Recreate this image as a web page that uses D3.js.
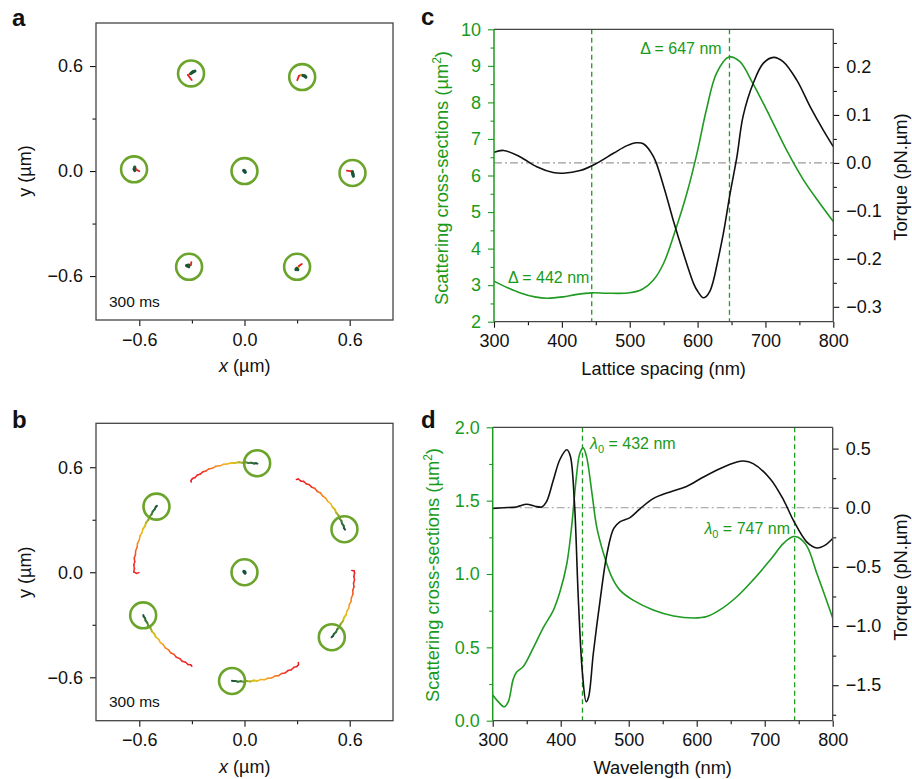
<!DOCTYPE html>
<html><head><meta charset="utf-8">
<script src="https://cdn.jsdelivr.net/npm/d3@7"></script>
<style>body{margin:0;background:#fff;} svg{display:block;}</style>
</head><body><svg id="fig" width="912" height="779"></svg>
<script>
// ---------------- DATA ----------------
// Panel a: trap (circle) centres, µm
const aCircleX = [-0.305, 0.329, -0.630, 0.000, 0.616, -0.316, 0.300];
const aCircleY = [0.558, 0.537, 0.010, 0.000, -0.011, -0.547, -0.547];
// Panel a: short particle tracks [x,y] µm (start -> end)
const aTracks = [
  [[-0.301,0.520],[-0.323,0.549],[-0.306,0.557],[-0.295,0.566],[-0.283,0.571]],
  [[0.301,0.520],[0.310,0.543],[0.321,0.549],[0.333,0.546],[0.344,0.543],[0.350,0.537]],
  [[-0.600,0.000],[-0.614,0.006],[-0.626,0.023],[-0.629,0.011],[-0.626,0.003]],
  [[0.004,-0.006],[0.000,0.000],[-0.004,0.003]],
  [[0.584,0.003],[0.601,0.000],[0.615,-0.003],[0.618,-0.017],[0.621,-0.029]],
  [[-0.303,-0.520],[-0.306,-0.537],[-0.318,-0.537],[-0.329,-0.540],[-0.318,-0.546]],
  [[0.327,-0.531],[0.310,-0.543],[0.307,-0.551],[0.293,-0.563],[0.298,-0.557],[0.304,-0.563]]
];
// Panel b: trap centres, µm
const bCircleX = [0.072, -0.502, 0.570, 0.000, -0.578, 0.498, -0.071];
const bCircleY = [0.623, 0.375, 0.246, 0.000, -0.246, -0.371, -0.621];
// Panel b: tracks as [angle (deg), radius (µm)] from start to end (centre trap in [x,y])
const bTracks = [
  [[120.5,0.598],[120.2,0.607],[119.0,0.612],[117.5,0.610],[116.0,0.617],[114.2,0.615],[112.5,0.621],[110.8,0.619],[109.0,0.624],[107.0,0.622],[105.2,0.627],[103.0,0.624],[101.0,0.628],[99.2,0.626],[97.0,0.629],[95.0,0.626],[93.0,0.629],[91.0,0.626],[89.5,0.628],[88.0,0.625],[86.5,0.627],[85.0,0.624],[84.0,0.626],[83.2,0.625]],
  [[180.2,0.602],[180.6,0.616],[179.8,0.632],[178.0,0.628],[176.3,0.633],[174.5,0.629],[172.6,0.634],[170.8,0.630],[168.8,0.633],[166.8,0.629],[164.9,0.632],[162.8,0.628],[160.8,0.631],[158.8,0.627],[157.0,0.630],[155.0,0.626],[153.2,0.629],[151.5,0.625],[149.8,0.628],[148.0,0.625],[146.5,0.628],[145.0,0.626],[143.5,0.629],[142.8,0.627]],
  [[60.8,0.607],[60.0,0.615],[58.5,0.612],[57.0,0.619],[55.2,0.616],[53.5,0.622],[51.8,0.619],[50.0,0.625],[48.0,0.621],[46.2,0.627],[44.2,0.623],[42.3,0.628],[40.5,0.624],[38.5,0.629],[36.6,0.625],[34.8,0.628],[33.0,0.624],[31.2,0.627],[29.5,0.623],[28.0,0.626],[26.5,0.622],[25.2,0.625],[24.0,0.621],[23.0,0.623]],
  [[0.003,-0.004],[0.0,0.002],[-0.003,0.004]],
  [[-119.2,0.615],[-120.2,0.611],[-121.5,0.618],[-123.2,0.614],[-125.0,0.620],[-126.8,0.616],[-128.7,0.622],[-130.6,0.618],[-132.5,0.624],[-134.4,0.620],[-136.3,0.625],[-138.2,0.621],[-140.0,0.626],[-141.9,0.622],[-143.8,0.627],[-145.6,0.623],[-147.4,0.627],[-149.2,0.624],[-150.9,0.628],[-152.5,0.625],[-154.0,0.628],[-155.2,0.625],[-156.2,0.628],[-157.0,0.627]],
  [[1.0,0.612],[0.8,0.625],[-0.5,0.628],[-2.2,0.624],[-4.0,0.629],[-5.8,0.625],[-7.7,0.630],[-9.5,0.626],[-11.5,0.631],[-13.4,0.627],[-15.3,0.630],[-17.2,0.626],[-19.0,0.629],[-21.0,0.625],[-22.8,0.628],[-24.6,0.624],[-26.4,0.627],[-28.2,0.623],[-30.0,0.625],[-31.6,0.621],[-33.2,0.624],[-34.6,0.620],[-35.8,0.622],[-36.8,0.620]],
  [[-59.2,0.600],[-59.8,0.612],[-61.0,0.616],[-62.6,0.612],[-64.4,0.618],[-66.2,0.614],[-68.0,0.620],[-69.8,0.616],[-71.8,0.622],[-73.7,0.618],[-75.6,0.623],[-77.5,0.620],[-79.5,0.624],[-81.4,0.620],[-83.3,0.625],[-85.2,0.621],[-87.0,0.625],[-88.8,0.622],[-90.5,0.626],[-92.0,0.623],[-93.5,0.626],[-94.8,0.623],[-95.8,0.625],[-96.6,0.624]]
];
const bTrackIsCartesian = [false,false,false,true,false,false,false];
const xyTicks = [-0.6, 0.0, 0.6];
const xyMinor = [-0.3, 0.3];
const timeLabel = "300 ms";

// Panel c
const cScatX = [300,320,340,360,378,402,420,445,466,500,518,535,550,569,584,599,613,628,646,662,682,707,731,756,780,800];
const cScatY = [3.11,2.93,2.78,2.68,2.64,2.68,2.74,2.79,2.78,2.79,2.88,3.14,3.6,4.6,5.5,6.6,7.8,8.8,9.24,9.12,8.5,7.6,6.7,5.88,5.24,4.74];
const cTorqX = [300,314,338,363,387,402,427,451,476,496,510,520,535,550,564,579,594,599,608,613,618,623,628,638,648,658,667,682,697,712,726,746,766,785,800];
const cTorqY = [0.022,0.026,0.013,-0.008,-0.020,-0.0215,-0.016,-0.001,0.020,0.036,0.042,0.040,0.013,-0.049,-0.119,-0.188,-0.251,-0.265,-0.281,-0.278,-0.268,-0.247,-0.216,-0.147,-0.063,0.013,0.097,0.166,0.208,0.220,0.211,0.173,0.117,0.069,0.034];
const cMarkers = [444, 647];
const cLeftTicks = [2,3,4,5,6,7,8,9,10];
const cLeftMinor = [2.5,3.5,4.5,5.5,6.5,7.5,8.5,9.5];
const cRightTicks = [-0.3,-0.2,-0.1,0.0,0.1,0.2];
const cRightMinor = [-0.25,-0.15,-0.05,0.05,0.15,0.25];

// Panel d
const dScatX = [300,308,317,323,330,335,345,360,375,389,399,409,416,423,428,433,438,446,453,463,475,487,507,536,566,596,615,634,659,683,708,728,742,749,762,777,789,800];
const dScatY = [0.175,0.13,0.095,0.13,0.28,0.33,0.37,0.50,0.64,0.75,0.88,1.07,1.32,1.66,1.82,1.86,1.8,1.55,1.32,1.14,0.98,0.89,0.82,0.755,0.714,0.70,0.71,0.755,0.845,0.96,1.095,1.21,1.255,1.25,1.19,1.0,0.845,0.70];
const dTorqX = [300,316,335,350,362,372,379,389,399,409,414,420,426,432,437.5,441,448,458,468,478,487,502,517,536,561,585,610,634,659,669,683,708,728,742,762,777,789,800];
const dTorqY = [-0.007,0.0,0.007,0.03,0.013,0.007,0.05,0.23,0.41,0.49,0.44,0.063,-0.78,-1.40,-1.64,-1.60,-1.23,-0.78,-0.39,-0.175,-0.12,-0.083,-0.007,0.077,0.134,0.18,0.26,0.33,0.387,0.395,0.373,0.246,0.063,-0.105,-0.29,-0.34,-0.316,-0.26];
const dMarkers = [432, 744];
const dLeftTicks = [0,0.5,1.0,1.5,2.0];
const dLeftMinor = [0.25,0.75,1.25,1.75];
const dRightTicks = [-1.5,-1.0,-0.5,0.0,0.5];
const dRightMinor = [-1.75,-1.25,-0.75,-0.25,0.25];
const xTicksCD = [300,400,500,600,700,800];
const xMinorCD = [350,450,550,650,750];

// ---------------- STYLE ----------------
const FONT = '"Liberation Sans", Arial, Helvetica, sans-serif';
const GREEN = "#1f9a22";
const TGREEN = "#1a9a1a";
const RING = "#6ba42a";
const FRAME = "#444";
const svg = d3.select("#fig").style("font-family", FONT);
const fmt1 = d3.format(".1f");
const fmt0 = d3.format("d");
const trackColorB = d3.scaleLinear()
  .domain([0,0.25,0.4,0.55,0.66,0.76,0.84,1])
  .range(["#ec1c24","#ef2f27","#f47a20","#f5ad1c","#dcc41d","#8ea42c","#3f7b3b","#17513a"]);
const trackColorA = d3.scaleLinear()
  .domain([0,0.35,0.5,0.62,1])
  .range(["#ec1c24","#ec1c24","#e8b81c","#1e5c34","#17513a"]);

function tickAxis(g, axisFn, scale, majors, minors, fmt, color, transform){
  const gm = g.append("g").attr("transform", transform)
    .call(axisFn(scale).tickValues(majors).tickSize(6).tickPadding(7).tickFormat(fmt));
  const gn = g.append("g").attr("transform", transform)
    .call(axisFn(scale).tickValues(minors).tickSize(3.5).tickFormat(""));
  [gm, gn].forEach(a => {
    a.select(".domain").remove();
    a.selectAll("line").attr("stroke", color).attr("stroke-width", 1.1);
    a.selectAll("text").attr("fill", color).style("font-size", "18px").style("font-family", FONT);
  });
}

function panelLetter(x, y, t){
  svg.append("text").attr("x", x).attr("y", y).text(t)
    .style("font-size", "24px").style("font-weight", "bold").attr("fill", "#111");
}

// ---------------- PANELS a & b ----------------
function trapPanel(top, bottom, domY, circX, circY, tracks, cartFlags, letter, letterY, colorScale, wThin, wThick){
  const x = d3.scaleLinear().domain([-0.847, 0.847]).range([96, 393]);
  const y = d3.scaleLinear().domain(domY).range([bottom, top]);
  const g = svg.append("g");
  tickAxis(g, d3.axisBottom, x, xyTicks, xyMinor, fmt1, "#111", `translate(0,${bottom})`);
  tickAxis(g, d3.axisLeft, y, xyTicks, xyMinor, fmt1, "#111", `translate(96,0)`);
  g.append("rect").attr("x", 96).attr("y", top).attr("width", 297).attr("height", bottom - top)
    .attr("fill", "none").attr("stroke", FRAME).attr("stroke-width", 1.3);
  tracks.forEach((tr, k) => {
    const pts = tr.map(p => {
      if (cartFlags[k]) return [x(p[0]), y(p[1])];
      const a = p[0] * Math.PI / 180;
      return [x(p[1] * Math.cos(a)), y(p[1] * Math.sin(a))];
    });
    const isDot = pts.length <= 3;
    for (let i = 0; i < pts.length - 1; i++){
      const t = isDot ? 1 : (i + 0.5) / (pts.length - 1);
      g.append("line").attr("x1", pts[i][0]).attr("y1", pts[i][1])
        .attr("x2", pts[i+1][0]).attr("y2", pts[i+1][1])
        .attr("stroke", colorScale(t))
        .attr("stroke-width", isDot ? 3.4 : (t > 0.6 ? wThick : wThin)).attr("stroke-linecap", "round");
    }
  });
  const r = x(0.074) - x(0);
  g.selectAll("circle.ring").data(circX).enter().append("circle")
    .attr("cx", (d) => x(d)).attr("cy", (d, i) => y(circY[i])).attr("r", r)
    .attr("fill", "none").attr("stroke", RING).attr("stroke-width", 2.6);
  g.append("text").attr("x", 109).attr("y", bottom - 13.5).text(timeLabel)
    .style("font-size", "15.5px").attr("fill", "#111");
  const xl = g.append("text").attr("x", 244.7).attr("y", bottom + 52).attr("text-anchor", "middle")
    .style("font-size", "18px").attr("fill", "#111");
  xl.append("tspan").style("font-style", "italic").text("x");
  xl.append("tspan").text(" (µm)");
  const yl = g.append("text").attr("transform", `translate(30.5,${y(0)}) rotate(-90)`)
    .attr("text-anchor", "middle").style("font-size", "18px").attr("fill", "#111");
  yl.append("tspan").text("y (µm)");
  panelLetter(12, letterY, letter);
}
trapPanel(23, 320, [-0.851, 0.846], aCircleX, aCircleY, aTracks, aTracks.map(() => true), "a", 26, trackColorA, 1.8, 3.2);
trapPanel(423.3, 720.7, [-0.848, 0.851], bCircleX, bCircleY, bTracks, bTrackIsCartesian, "b", 428, trackColorB, 1.5, 2.0);

// ---------------- PANELS c & d ----------------
function specPanel(o){
  const x = d3.scaleLinear().domain([300, 800]).range([o.left, o.right]);
  const yL = d3.scaleLinear().domain(o.domL).range([o.bottom, o.top]);
  const yR = d3.scaleLinear().domain(o.domR).range([o.bottom, o.top]);
  const g = svg.append("g");
  const clipId = "clip" + o.letter;
  g.append("clipPath").attr("id", clipId).append("rect")
    .attr("x", o.left).attr("y", o.top).attr("width", o.right - o.left).attr("height", o.bottom - o.top);
  g.append("line").attr("x1", o.left).attr("x2", o.right).attr("y1", yR(0)).attr("y2", yR(0))
    .attr("stroke", "#9a9a9a").attr("stroke-width", 1.2).attr("stroke-dasharray", "8,3,2,3");
  g.selectAll("line.mk").data(o.markers).enter().append("line")
    .attr("x1", d => x(d)).attr("x2", d => x(d)).attr("y1", o.top).attr("y2", o.bottom)
    .attr("stroke", GREEN).attr("stroke-width", 1.3).attr("stroke-dasharray", "5,3.5");
  const cg = g.append("g").attr("clip-path", `url(#${clipId})`);
  const lineS = d3.line().x(d => x(d[0])).y(d => yL(d[1])).curve(d3.curveCatmullRom.alpha(0.5));
  const lineT = d3.line().x(d => x(d[0])).y(d => yR(d[1])).curve(d3.curveCatmullRom.alpha(0.5));
  cg.append("path").attr("d", lineS(o.sx.map((v, i) => [v, o.sy[i]])))
    .attr("fill", "none").attr("stroke", GREEN).attr("stroke-width", 1.6);
  cg.append("path").attr("d", lineT(o.tx.map((v, i) => [v, o.ty[i]])))
    .attr("fill", "none").attr("stroke", "#111").attr("stroke-width", 1.6);
  tickAxis(g, d3.axisBottom, x, xTicksCD, xMinorCD, fmt0, "#111", `translate(0,${o.bottom})`);
  tickAxis(g, d3.axisLeft, yL, o.lt, o.lm, o.lf, TGREEN, `translate(${o.left},0)`);
  tickAxis(g, d3.axisRight, yR, o.rt, o.rm, fmt1, "#111", `translate(${o.right},0)`);
  g.append("line").attr("x1", o.left).attr("x2", o.right).attr("y1", o.top).attr("y2", o.top).attr("stroke", FRAME).attr("stroke-width", 1.3);
  g.append("line").attr("x1", o.left).attr("x2", o.right).attr("y1", o.bottom).attr("y2", o.bottom).attr("stroke", FRAME).attr("stroke-width", 1.3);
  g.append("line").attr("x1", o.right).attr("x2", o.right).attr("y1", o.top).attr("y2", o.bottom).attr("stroke", FRAME).attr("stroke-width", 1.3);
  g.append("line").attr("x1", o.left).attr("x2", o.left).attr("y1", o.top).attr("y2", o.bottom).attr("stroke", GREEN).attr("stroke-width", 1.5);
  g.append("text").attr("x", (o.left + o.right) / 2).attr("y", o.bottom + 53).attr("text-anchor", "middle")
    .style("font-size", "18.3px").attr("fill", "#111").text(o.xTitle);
  const lt = g.append("text").attr("transform", `translate(${o.lTitleX},${o.lTitleY}) rotate(-90)`)
    .attr("text-anchor", "middle").style("font-size", "18.3px").attr("fill", TGREEN);
  lt.append("tspan").text("Scattering cross-sections (µm");
  lt.append("tspan").attr("dy", -7).style("font-size", "12px").text("2");
  lt.append("tspan").attr("dy", 7).text(")");
  g.append("text").attr("transform", `translate(907,${o.rTitleY}) rotate(-90)`)
    .attr("text-anchor", "middle").style("font-size", "18.3px").attr("fill", "#111").text("Torque (pN.µm)");
  panelLetter(421, o.letterY, o.letter);
  return {x, yL, yR, g};
}

const pc = specPanel({left: 494, right: 833.3, top: 29.3, bottom: 321.7, domL: [2, 10], domR: [-0.331, 0.2785],
  sx: cScatX, sy: cScatY, tx: cTorqX, ty: cTorqY, markers: cMarkers,
  lt: cLeftTicks, lm: cLeftMinor, lf: fmt0, rt: cRightTicks, rm: cRightMinor,
  xTitle: "Lattice spacing (nm)", lTitleX: 448, lTitleY: 178, rTitleY: 177, letter: "c", letterY: 25});
pc.g.append("text").attr("x", 721.7).attr("y", 54).attr("text-anchor", "end")
  .style("font-size", "16px").attr("fill", TGREEN).text("Δ = 647 nm");
pc.g.append("text").attr("x", 508).attr("y", 283).attr("text-anchor", "start")
  .style("font-size", "16px").attr("fill", TGREEN).text("Δ = 442 nm");

const pd = specPanel({left: 492.7, right: 832.7, top: 427.3, bottom: 720.7, domL: [0, 2], domR: [-1.80, 0.68],
  sx: dScatX, sy: dScatY, tx: dTorqX, ty: dTorqY, markers: dMarkers,
  lt: dLeftTicks, lm: dLeftMinor, lf: fmt1, rt: dRightTicks, rm: dRightMinor,
  xTitle: "Wavelength (nm)", lTitleX: 439, lTitleY: 575, rTitleY: 577, letter: "d", letterY: 428});
function lambdaLabel(xp, yp, anchor, val){
  const t = pd.g.append("text").attr("x", xp).attr("y", yp).attr("text-anchor", anchor)
    .style("font-size", "16px").attr("fill", TGREEN);
  t.append("tspan").style("font-style", "italic").text("λ");
  t.append("tspan").attr("dy", 4).style("font-size", "11px").text("0");
  t.append("tspan").attr("dy", -4).text(" = " + val + " nm");
}
lambdaLabel(590, 448.5, "start", 432);
lambdaLabel(790, 534, "end", 747);
</script></body></html>
